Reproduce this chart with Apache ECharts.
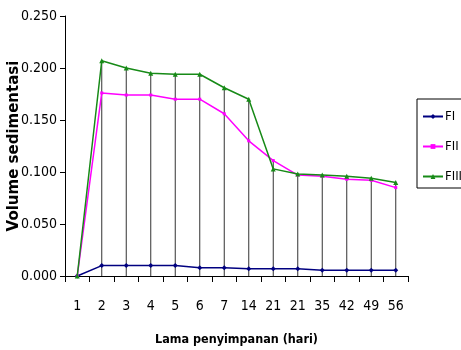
<!DOCTYPE html>
<html><head><meta charset="utf-8">
<script src="https://cdn.jsdelivr.net/npm/echarts@6/dist/echarts.min.js"></script>
<style>html,body{margin:0;padding:0;background:#fff}#c{width:461px;height:350px}</style>
</head><body><div id="c"></div>
<script>
var categories = ['1','2','3','4','5','6','7','14','21','21','35','42','49','56'];
var fI   = [0, 0.010, 0.010, 0.010, 0.010, 0.008, 0.008, 0.007, 0.007, 0.007, 0.0055, 0.0055, 0.0055, 0.0055];
var fII  = [0, 0.176, 0.174, 0.174, 0.170, 0.170, 0.156, 0.130, 0.111, 0.097, 0.096, 0.093, 0.092, 0.085];
var fIII = [0, 0.207, 0.200, 0.195, 0.194, 0.194, 0.181, 0.170, 0.103, 0.098, 0.097, 0.096, 0.094, 0.090];
var yTicks = [0, 0.05, 0.10, 0.15, 0.20, 0.25];

var drop = categories.map(function(_, i){ return Math.max(fI[i], fII[i], fIII[i]); });
var narrow = "'DejaVu Sans Condensed', 'Liberation Sans Narrow', sans-serif";

var chart = echarts.init(document.getElementById('c'), null, {renderer:'canvas'});
chart.setOption({
  animation: false,
  backgroundColor: '#fff',
  grid: {left: 65, right: 53, top: 16, bottom: 74, containLabel: false, outerBoundsMode: 'none'},
  legend: {
    data: ['FI','FII','FIII'],
    orient: 'vertical',
    left: 417, top: 99,
    padding: [11, 30, 5, 5],
    itemGap: 17, itemWidth: 20, itemHeight: 6,
    borderColor: '#000', borderWidth: 1,
    textStyle: {fontFamily: narrow, fontSize: 13, color: '#000', padding: [0,0,0,-3]}
  },
  xAxis: {
    type: 'category', data: categories, boundaryGap: true,
    name: 'Lama penyimpanan (hari)', nameLocation: 'middle', nameGap: 57,
    nameTextStyle: {fontFamily: narrow, fontWeight: 'bold', fontSize: 12.5, color: '#000'},
    axisLine: {lineStyle: {color: '#000', width: 1}},
    axisTick: {show: true, alignWithLabel: false, length: 6, lineStyle: {color: '#000'}},
    axisLabel: {fontFamily: narrow, fontSize: 14, color: '#000', margin: 23, interval: 0}
  },
  yAxis: {
    type: 'value', min: 0, max: 0.25, interval: 0.05,
    name: 'Volume sedimentasi', nameLocation: 'middle', nameGap: 43, nameMoveOverlap: false,
    nameTextStyle: {fontFamily: "'DejaVu Sans', sans-serif", fontWeight: 'bold', fontSize: 15, color: '#000'},
    axisLine: {show: true, lineStyle: {color: '#000', width: 1}},
    axisTick: {show: true, length: 5, lineStyle: {color: '#000'}},
    splitLine: {show: false},
    axisLabel: {fontFamily: narrow, fontSize: 14, color: '#000', margin: 8,
      formatter: function(v){ return v.toFixed(3); }}
  },
  series: [
    {name: 'drop', type: 'bar', data: drop, barWidth: 1, silent: true, z: 1,
     itemStyle: {color: '#333'}},
    {name: 'FI', type: 'line', data: fI, z: 3, symbol: 'diamond', symbolSize: 5, showAllSymbol: true,
     lineStyle: {color: '#000080', width: 1.5}, itemStyle: {color: '#000080'}},
    {name: 'FII', type: 'line', data: fII, z: 3, symbol: 'rect', symbolSize: 3, showAllSymbol: true,
     lineStyle: {color: '#ff00ff', width: 1.5}, itemStyle: {color: '#ff00ff'}},
    {name: 'FIII', type: 'line', data: fIII, z: 4, symbol: 'triangle', symbolSize: 5, showAllSymbol: true,
     lineStyle: {color: '#178a17', width: 1.5}, itemStyle: {color: '#178a17'}}
  ]
});
</script></body></html>
